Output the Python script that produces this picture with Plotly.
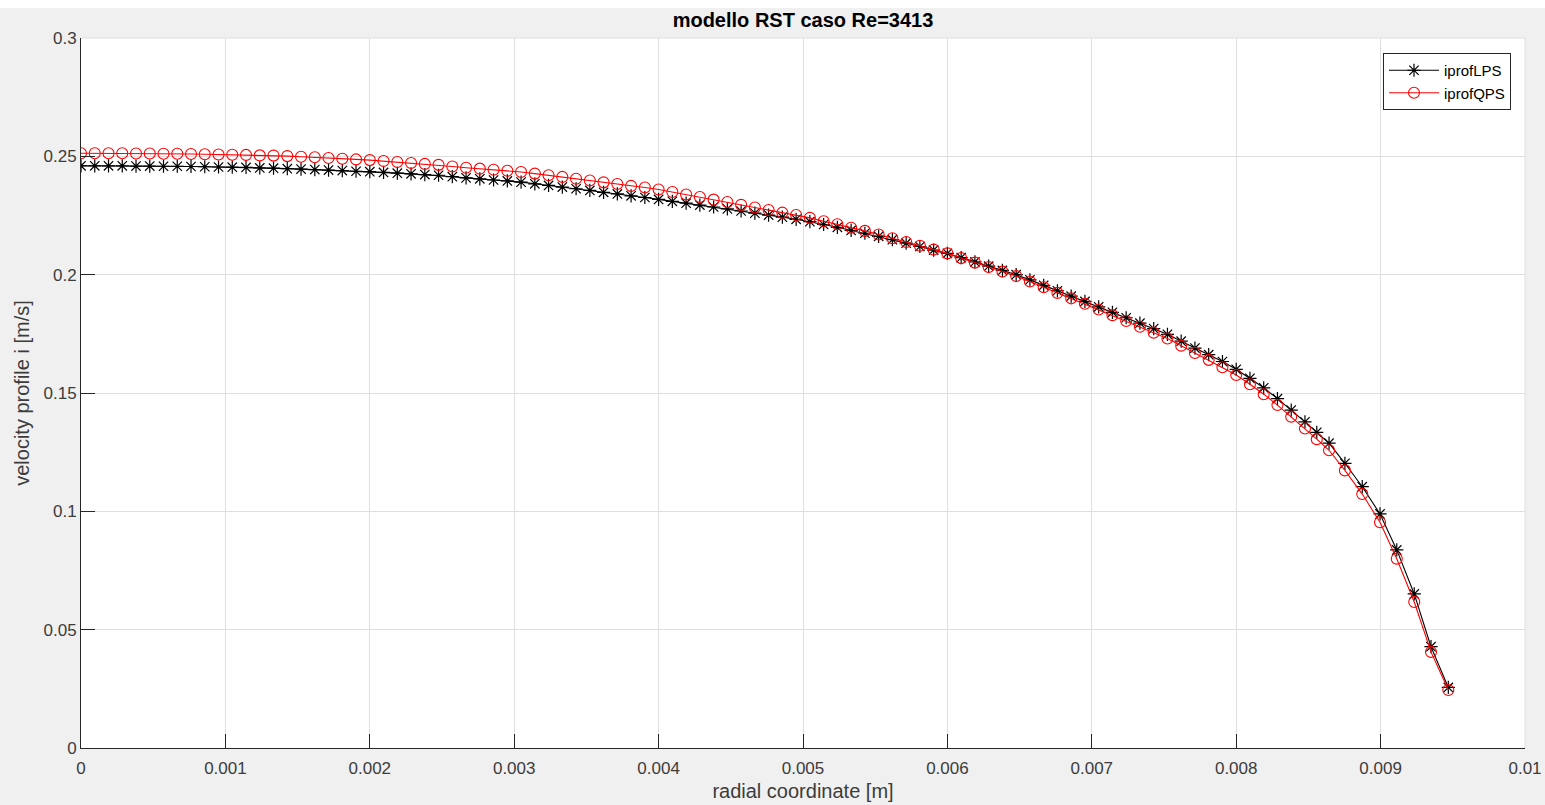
import plotly.graph_objects as go
import numpy as np

# radial coordinate in mm (converted to m below)
r_mm = [0.0000, 0.0952, 0.1905, 0.2857, 0.3810, 0.4762, 0.5714, 0.6667, 0.7619, 0.8571,
        0.9524, 1.0476, 1.1429, 1.2381, 1.3333, 1.4286, 1.5238, 1.6190, 1.7143, 1.8095,
        1.9048, 2.0000, 2.0952, 2.1905, 2.2857, 2.3810, 2.4762, 2.5714, 2.6667, 2.7619,
        2.8571, 2.9524, 3.0476, 3.1429, 3.2381, 3.3333, 3.4286, 3.5238, 3.6190, 3.7143,
        3.8095, 3.9048, 4.0000, 4.0952, 4.1905, 4.2857, 4.3810, 4.4762, 4.5714, 4.6667,
        4.7619, 4.8571, 4.9524, 5.0476, 5.1429, 5.2381, 5.3333, 5.4286, 5.5238, 5.6190,
        5.7143, 5.8095, 5.9048, 6.0000, 6.0952, 6.1905, 6.2857, 6.3810, 6.4762, 6.5714,
        6.6667, 6.7619, 6.8571, 6.9524, 7.0476, 7.1429, 7.2381, 7.3333, 7.4286, 7.5238,
        7.6190, 7.7143, 7.8095, 7.9048, 8.0000, 8.0952, 8.1905, 8.2857, 8.3810, 8.4762,
        8.558, 8.643, 8.753, 8.873, 8.996, 9.112, 9.233, 9.349, 9.469]

iprofLPS = [0.2460, 0.2460, 0.2460, 0.2460, 0.2459, 0.2459, 0.2458, 0.2458, 0.2457, 0.2456,
            0.2455, 0.2454, 0.2453, 0.2451, 0.2450, 0.2448, 0.2446, 0.2444, 0.2442, 0.2440,
            0.2437, 0.2435, 0.2432, 0.2429, 0.2426, 0.2423, 0.2420, 0.2414, 0.2409, 0.2405,
            0.2400, 0.2396, 0.2391, 0.2384, 0.2377, 0.2370, 0.2363, 0.2356, 0.2348, 0.2341,
            0.2333, 0.2326, 0.2318, 0.2310, 0.2302, 0.2294, 0.2286, 0.2278, 0.2269, 0.2260,
            0.2252, 0.2243, 0.2234, 0.2224, 0.2212, 0.2200, 0.2187, 0.2175, 0.2162, 0.2148,
            0.2133, 0.2119, 0.2104, 0.2090, 0.2072, 0.2054, 0.2036, 0.2018, 0.2000, 0.1978,
            0.1955, 0.1932, 0.1909, 0.1887, 0.1864, 0.1841, 0.1818, 0.1795, 0.1772, 0.1748,
            0.1719, 0.1690, 0.1662, 0.1633, 0.1600, 0.1562, 0.1522, 0.1476, 0.1428, 0.1378,
            0.1334, 0.1288, 0.1203, 0.1104, 0.0989, 0.0837, 0.0651, 0.0428, 0.0256]

iprofQPS = [0.2513, 0.2513, 0.2513, 0.2513, 0.2512, 0.2512, 0.2511, 0.2511, 0.2510, 0.2509,
            0.2508, 0.2507, 0.2506, 0.2504, 0.2503, 0.2501, 0.2498, 0.2496, 0.2493, 0.2490,
            0.2487, 0.2484, 0.2480, 0.2476, 0.2472, 0.2468, 0.2464, 0.2457, 0.2452, 0.2448,
            0.2443, 0.2439, 0.2434, 0.2427, 0.2420, 0.2413, 0.2405, 0.2398, 0.2390, 0.2383,
            0.2375, 0.2368, 0.2360, 0.2349, 0.2339, 0.2328, 0.2317, 0.2307, 0.2295, 0.2284,
            0.2273, 0.2262, 0.2252, 0.2240, 0.2226, 0.2213, 0.2198, 0.2185, 0.2170, 0.2154,
            0.2138, 0.2122, 0.2106, 0.2090, 0.2070, 0.2051, 0.2032, 0.2013, 0.1994, 0.1971,
            0.1947, 0.1923, 0.1900, 0.1877, 0.1853, 0.1829, 0.1804, 0.1780, 0.1755, 0.1730,
            0.1700, 0.1669, 0.1640, 0.1609, 0.1576, 0.1537, 0.1495, 0.1449, 0.1400, 0.1350,
            0.1305, 0.1258, 0.1173, 0.1073, 0.0954, 0.0800, 0.0617, 0.0406, 0.0245]

x_ticks = [0, 0.001, 0.002, 0.003, 0.004, 0.005, 0.006, 0.007, 0.008, 0.009, 0.01]
x_ticklabels = ["0", "0.001", "0.002", "0.003", "0.004", "0.005", "0.006", "0.007", "0.008", "0.009", "0.01"]
y_ticks = [0, 0.05, 0.1, 0.15, 0.2, 0.25, 0.3]
y_ticklabels = ["0", "0.05", "0.1", "0.15", "0.2", "0.25", "0.3"]

r = np.array(r_mm) * 1e-3

FONT = "Liberation Sans, Arial, Helvetica, sans-serif"
AXC = "#262626"
TXC = "#3c3c3c"
GRID = "#dfdfdf"

fig = go.Figure()
fig.add_trace(go.Scatter(
    x=r, y=iprofLPS, name="iprofLPS", mode="lines+markers",
    line=dict(color="black", width=1.1),
    marker=dict(symbol="asterisk-open", size=11, color="black",
                line=dict(color="black", width=1.2)),
))
fig.add_trace(go.Scatter(
    x=r, y=iprofQPS, name="iprofQPS", mode="lines+markers",
    line=dict(color="#ff0000", width=1.1),
    marker=dict(symbol="circle-open", size=11, color="#ff0000",
                line=dict(color="#ff0000", width=1.1)),
))

# page is offset 8 px from the top (white strip), figure fills the rest
W, H = 1545, 797
L, R, T, B = 81, 20, 30, 57
pw, ph = W - L - R, H - T - B

fig.update_layout(
    width=W, height=H, autosize=False,
    margin=dict(l=L, r=R, t=T, b=B, autoexpand=False),
    paper_bgcolor="#f0f0f0",
    plot_bgcolor="white",
    font=dict(family=FONT, color=TXC, size=17),
    title=dict(text="<b>modello RST caso Re=3413</b>", x=0.5, xref="paper",
               y=1 - 12 / H, yref="container", yanchor="middle", xanchor="center",
               font=dict(size=20, color="#000000", family=FONT)),
    showlegend=True,
    legend=dict(x=(1511 - L) / pw, y=(740 - 45) / ph, xanchor="right", yanchor="top",
                bgcolor="white", bordercolor=AXC, borderwidth=1,
                font=dict(size=15, color="#000000", family=FONT),
                itemwidth=50, tracegroupgap=0),
    xaxis=dict(range=[0, 0.01], tickvals=x_ticks, ticktext=x_ticklabels,
               showgrid=True, gridcolor=GRID, gridwidth=1, automargin=False,
               showline=True, linecolor=AXC, linewidth=1, mirror=False,
               ticks="inside", ticklen=14, tickwidth=1, tickcolor=AXC,
               ticklabelstandoff=5,
               zeroline=False, tickfont=dict(size=17, color=TXC),
               title=dict(text="radial coordinate [m]", standoff=6,
                          font=dict(size=20, color=TXC))),
    yaxis=dict(range=[0, 0.3], tickvals=y_ticks, ticktext=y_ticklabels,
               showgrid=True, gridcolor=GRID, gridwidth=1, automargin=False,
               showline=True, linecolor=AXC, linewidth=1, mirror=False,
               ticks="inside", ticklen=14, tickwidth=1, tickcolor=AXC,
               zeroline=False, tickfont=dict(size=17, color=TXC),
               title=dict(text="velocity profile i [m/s]", standoff=8,
                          font=dict(size=20, color=TXC))),
)

# light edge on top/right (grid lines at range limits)
fig.add_shape(type="line", xref="paper", yref="paper", x0=0, x1=1, y0=1, y1=1,
              line=dict(color=GRID, width=1), layer="below")
fig.add_shape(type="line", xref="paper", yref="paper", x0=1, x1=1, y0=0, y1=1,
              line=dict(color=GRID, width=1), layer="below")

fig.write_html(
    "out.html",
    post_script="document.body.style.margin='8px 0 0 0';document.body.style.overflow='hidden';",
)
